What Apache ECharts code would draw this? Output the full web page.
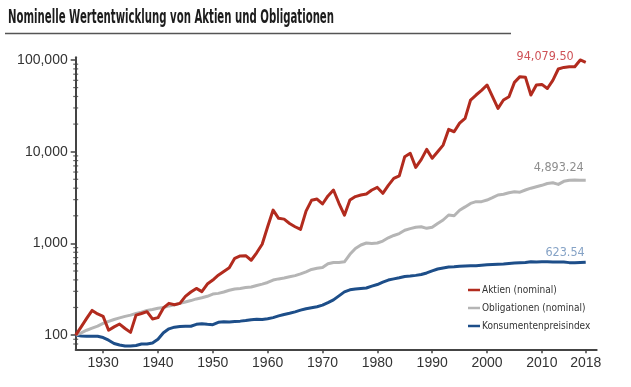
<!DOCTYPE html>
<html><head><meta charset="utf-8">
<script src="https://cdn.jsdelivr.net/npm/echarts@6/dist/echarts.min.js"></script>
<style>html,body{margin:0;padding:0;background:#fff}#c{width:631px;height:387px}</style>
</head><body><div id="c"></div>
<script>
const titleText = 'Nominelle Wertentwicklung von Aktien und Obligationen';
const seriesNames = ['Aktien (nominal)', 'Obligationen (nominal)', 'Konsumentenpreisindex'];
const years = [1925,1926,1927,1928,1929,1930,1931,1932,1933,1934,1935,1936,1937,1938,1939,
1940,1941,1942,1943,1944,1945,1946,1947,1948,1949,1950,1951,1952,1953,1954,1955,1956,1957,1958,1959,
1960,1961,1962,1963,1964,1965,1966,1967,1968,1969,1970,1971,1972,1973,1974,1975,1976,1977,1978,1979,
1980,1981,1982,1983,1984,1985,1986,1987,1988,1989,1990,1991,1992,1993,1994,1995,1996,1997,1998,1999,
2000,2001,2002,2003,2004,2005,2006,2007,2008,2009,2010,2011,2012,2013,2014,2015,2016,2017,2018];
const aktien = [100,123,152,186,170,160,113,123,132,118,107,165,172,180,150,
155,198,222,214,222,264,295,323,298,360,398,450,495,542,687,730,735,655,790,980,
1520,2310,1875,1840,1650,1520,1420,2250,2950,3045,2690,3290,3820,2740,2030,2970,3240,3370,3450,3820,
4080,3515,4300,5120,5460,8820,9600,6750,8200,10600,8470,10000,11800,17500,16500,20500,23100,36600,41500,46600,
53400,39800,29700,36600,39800,57000,65800,65000,41500,53400,54200,48900,60000,79800,83000,84500,84500,100000,94079.50];
const obligationen = [100,106,113,119,125,134,141,148,154,160,165,172,178,186,190,
196,200,208,214,222,230,238,248,255,265,280,285,295,308,318,322,330,335,348,360,
375,398,410,420,432,445,465,490,520,535,545,600,620,620,630,760,880,960,1010,1000,
1010,1060,1150,1220,1280,1390,1450,1500,1520,1460,1500,1650,1800,2040,2000,2300,2500,2730,2850,2850,
2970,3150,3370,3440,3560,3650,3620,3820,4000,4150,4300,4500,4580,4400,4750,4870,4900,4890,4893.24];
const kpi = [100,98,97,97,97,94,88,81,78,76,76,77,80,80,82,
90,106,117,122,124,125,125,131,133,131,130,138,140,139,141,142,144,147,149,148,
151,155,162,168,173,179,187,194,199,204,212,226,242,268,296,312,318,322,326,342,
356,378,398,410,422,436,440,448,458,476,502,526,540,552,556,564,568,570,572,578,
584,590,594,597,604,610,616,620,632,628,632,631,626,625,625,617,614,618,623.54];
const xTickValues = [1930,1940,1950,1960,1970,1980,1990,2000,2010,2018];
const yMajorValues = [100,1000,10000,100000];
const yMinorValues = [80,90,200,300,400,500,600,700,800,900,2000,3000,4000,5000,6000,7000,8000,9000,
20000,30000,40000,50000,60000,70000,80000,90000];

const lineColors = ['#b22b1e', '#b5b5b5', '#1d4e89'];
const labelColors = ['#cf5257', '#8e8e8e', '#86a3c6'];
const labelOffsets = [[-12, 3], [-2, 0], [-1, 2]];
const labelDistance = [2, 6, 5];
const narrow = '"Liberation Sans Narrow", "DejaVu Sans Condensed", "Arial Narrow", sans-serif';
const fmt = v => v.toLocaleString('en-US', {minimumFractionDigits: 2, maximumFractionDigits: 2});

function buildData(vals, idx) {
  return years.map((y, i) => {
    if (i === years.length - 1) {
      return {value: [y, vals[i]], label: {show: true, position: 'top', align: 'right',
        distance: labelDistance[idx], offset: labelOffsets[idx], color: labelColors[idx],
        fontFamily: narrow, fontSize: 12.5, formatter: p => fmt(p.value[1])}};
    }
    return [y, vals[i]];
  });
}

const titleFont = 'bold 19px "Liberation Sans Narrow", "DejaVu Sans Condensed", sans-serif';
const mctx = document.createElement('canvas').getContext('2d');
mctx.font = titleFont;
const titleScale = 326 / mctx.measureText(titleText).width;

const chart = echarts.init(document.getElementById('c'), null, {renderer: 'canvas'});
const allSeries = [aktien, obligationen, kpi].map((vals, idx) => ({
  name: seriesNames[idx], type: 'line', data: buildData(vals, idx),
  showSymbol: true, showAllSymbol: true, symbol: 'circle', symbolSize: 0,
  z: 3 - idx + 2,
  label: {show: false},
  lineStyle: {color: lineColors[idx], width: 3, join: 'round'},
  itemStyle: {color: lineColors[idx]},
  emphasis: {disabled: true}
}));
allSeries.push({
  name: 'minor', type: 'scatter', silent: true, clip: false,
  data: yMinorValues.map(v => [1925, v]),
  symbol: 'rect', symbolSize: [5, 1.2], symbolOffset: [0, 0],
  itemStyle: {color: '#444'}, z: 10
});

function yLabel(v) {
  const r = Math.round(v);
  return yMajorValues.indexOf(r) >= 0 ? r.toLocaleString('en-US') : '';
}

chart.setOption({
  animation: false,
  backgroundColor: '#fff',
  grid: {left: 75.7, right: 34.3, top: 57.3, bottom: 37.7, containLabel: false},
  graphic: [
    {type: 'text', x: 8, y: 9, scaleX: titleScale,
     style: {text: titleText, font: titleFont, fill: '#1c1c1c'}},
    {type: 'line', shape: {x1: 5, y1: 33.5, x2: 511, y2: 33.5},
     style: {stroke: '#555', lineWidth: 1.5}}
  ],
  legend: {
    data: seriesNames, orient: 'vertical', left: 463, top: 278,
    icon: 'rect', itemWidth: 12, itemHeight: 2.5, itemGap: 4,
    textStyle: {fontFamily: narrow, fontSize: 10, color: '#333', lineHeight: 14, padding: [0, 0, 0, -3]}
  },
  xAxis: {
    type: 'value', min: 1925, max: 2020,
    axisLine: {show: true, lineStyle: {color: '#444', width: 2}},
    axisTick: {show: true, customValues: xTickValues, length: 4, lineStyle: {color: '#444', width: 1.5}},
    axisLabel: {customValues: xTickValues, fontSize: 14, color: '#333', margin: 7,
      fontFamily: 'Liberation Sans, Arial, sans-serif', formatter: v => String(v)},
    splitLine: {show: false}
  },
  yAxis: {
    type: 'log', logBase: 10, min: 70, max: 107000,
    axisLine: {show: true, onZero: false, lineStyle: {color: '#444', width: 2}},
    axisTick: {show: true, customValues: yMajorValues, length: 5, lineStyle: {color: '#444', width: 1.5}},
    axisLabel: {show: true, customValues: yMajorValues, fontSize: 14, color: '#333', margin: 8,
      fontFamily: 'Liberation Sans, Arial, sans-serif', formatter: yLabel},
    splitLine: {show: false}
  },
  series: allSeries
});
</script></body></html>
